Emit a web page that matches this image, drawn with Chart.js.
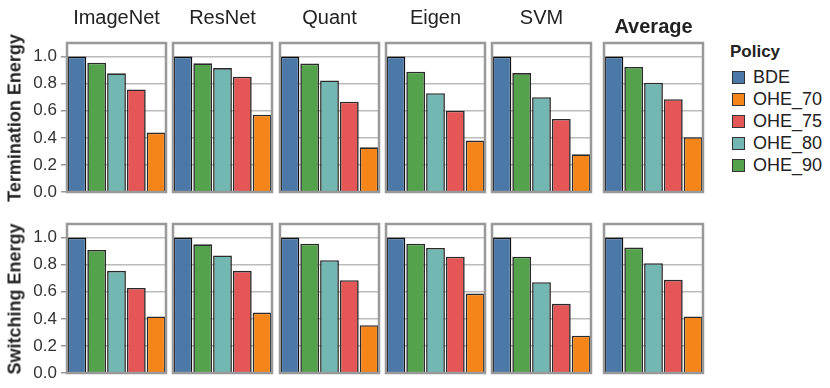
<!DOCTYPE html>
<html>
<head>
<meta charset="utf-8">
<script src="https://cdn.jsdelivr.net/npm/chart.js@4.4.1/dist/chart.umd.min.js"></script>
<style>
    html, body { margin: 0; padding: 0; background: #fff; }
    body { width: 830px; height: 388px; position: relative; overflow: hidden;
           font-family: "Liberation Sans", Arial, sans-serif; color: #222; }
    canvas { position: absolute; }
    .lbl { position: absolute; white-space: nowrap; transform: translate(-50%, -50%); }
    .col-title { font-size: 20px; }
    .avg-title { font-size: 20px; font-weight: bold; }
    .y-title { font-size: 18px; font-weight: bold; transform: translate(-50%, -50%) rotate(-90deg); }
    .legend-title { position: absolute; left: 730px; top: 42px; font-size: 17px; font-weight: bold; }
    .legend-item { position: absolute; left: 731px; height: 20px; line-height: 20px; font-size: 18px; }
    .legend-item i { position: absolute; left: 1px; top: 4px; width: 11px; height: 11px; border: 1px solid #333; }
    .legend-item span { position: absolute; left: 22px; top: 0; color: #222; }
</style>
</head>
<body>
<script>
// 数据
const benchmarks = ['ImageNet', 'ResNet', 'Quant', 'Eigen', 'SVM', 'Average'];
const barPolicies = ['BDE', 'OHE_90', 'OHE_80', 'OHE_75', 'OHE_70'];
const legendPolicies = ['BDE', 'OHE_70', 'OHE_75', 'OHE_80', 'OHE_90'];
const yTicks = [0, 0.2, 0.4, 0.6, 0.8, 1.0];

// Termination Energy
const termBDE   = [1.0, 1.0, 1.0, 1.0, 1.0, 1.0];
const termOHE90 = [0.955, 0.950, 0.948, 0.888, 0.878, 0.923];
const termOHE80 = [0.876, 0.915, 0.824, 0.729, 0.700, 0.807];
const termOHE75 = [0.757, 0.851, 0.667, 0.600, 0.539, 0.685];
const termOHE70 = [0.439, 0.571, 0.330, 0.380, 0.278, 0.405];

// Switching Energy
const switchBDE   = [1.0, 1.0, 1.0, 1.0, 1.0, 1.0];
const switchOHE90 = [0.908, 0.950, 0.955, 0.955, 0.859, 0.926];
const switchOHE80 = [0.754, 0.868, 0.833, 0.923, 0.670, 0.811];
const switchOHE75 = [0.628, 0.754, 0.685, 0.859, 0.511, 0.688];
const switchOHE70 = [0.417, 0.446, 0.353, 0.586, 0.275, 0.417];

const COLORS = {
    BDE: '#4c78a8',
    OHE_70: '#f58518',
    OHE_75: '#e45756',
    OHE_80: '#72b7b2',
    OHE_90: '#54a24b'
};

const rows = [
    { title: 'Termination Energy', top: 43,
      series: { BDE: termBDE, OHE_90: termOHE90, OHE_80: termOHE80, OHE_75: termOHE75, OHE_70: termOHE70 } },
    { title: 'Switching Energy', top: 224,
      series: { BDE: switchBDE, OHE_90: switchOHE90, OHE_80: switchOHE80, OHE_75: switchOHE75, OHE_70: switchOHE70 } }
];

// 版式
const panelLeft = [67, 173, 280, 386, 492, 604];
const panelW = 99;
const panelH = 149;
const axisW = 45;
const PAD = 3;    // 左右留白
const VPAD = 16;  // 上下留白（容纳刻度文字）

// 面板边框
const framePlugin = {
    id: 'frame',
    afterDraw(chart) {
        const a = chart.chartArea;
        const ctx = chart.ctx;
        ctx.save();
        ctx.strokeStyle = '#999';
        ctx.lineWidth = 2.5;
        ctx.strokeRect(a.left, a.top, a.right - a.left, a.bottom - a.top);
        ctx.restore();
    }
};

function addLabel(text, cls, x, y) {
    const d = document.createElement('div');
    d.className = 'lbl ' + cls;
    d.textContent = text;
    d.style.left = x + 'px';
    d.style.top = y + 'px';
    document.body.appendChild(d);
}

function makePanel(row, col) {
    const first = col === 0;
    const canvas = document.createElement('canvas');
    const left = first ? panelLeft[col] - axisW : panelLeft[col] - PAD;
    const width = first ? axisW + panelW + PAD : panelW + 2 * PAD;
    canvas.width = width;
    canvas.height = panelH + 2 * VPAD;
    canvas.style.left = left + 'px';
    canvas.style.top = (row.top - VPAD) + 'px';
    document.body.appendChild(canvas);

    new Chart(canvas, {
        type: 'bar',
        data: {
            labels: barPolicies,
            datasets: [{
                data: barPolicies.map(p => row.series[p][col]),
                backgroundColor: barPolicies.map(p => COLORS[p]),
                borderColor: barPolicies.map(p => p === 'BDE' ? '#111' : '#2a2a2a'),
                borderWidth: 1.6,
                barPercentage: 0.95,
                categoryPercentage: 1.0
            }]
        },
        options: {
            responsive: false,
            animation: false,
            devicePixelRatio: 1,
            layout: { padding: { top: VPAD, bottom: VPAD, right: PAD, left: first ? 0 : PAD } },
            plugins: { legend: { display: false }, tooltip: { enabled: false } },
            scales: {
                x: { display: false },
                y: {
                    min: 0,
                    max: 1.1,
                    afterBuildTicks: s => { s.ticks = yTicks.map(v => ({ value: v })); },
                    afterFit: s => { s.width = first ? axisW : 0; },
                    border: { display: false },
                    grid: {
                        color: '#bbb',
                        lineWidth: 1.5,
                        drawTicks: first,
                        tickLength: 6,
                        tickColor: '#999'
                    },
                    ticks: {
                        display: first,
                        padding: 4,
                        color: '#333',
                        font: { family: '"Liberation Sans", Arial, sans-serif', size: 17 },
                        callback: v => Number(v).toFixed(1)
                    }
                }
            }
        },
        plugins: [framePlugin]
    });
}

rows.forEach(row => {
    benchmarks.forEach((b, col) => makePanel(row, col));
    addLabel(row.title, 'y-title', 15, row.top + panelH / 2);
});

benchmarks.forEach((b, col) => {
    const cx = panelLeft[col] + panelW / 2;
    if (b === 'Average') addLabel(b, 'avg-title', cx, 26);
    else addLabel(b, 'col-title', cx, 17);
});

// 图例
const lt = document.createElement('div');
lt.className = 'legend-title';
lt.textContent = 'Policy';
document.body.appendChild(lt);
legendPolicies.forEach((p, i) => {
    const item = document.createElement('div');
    item.className = 'legend-item';
    item.style.top = (67 + i * 21.9) + 'px';
    item.innerHTML = `<i style="background:${COLORS[p]}"></i><span>${p}</span>`;
    document.body.appendChild(item);
});
</script>
</body>
</html>
